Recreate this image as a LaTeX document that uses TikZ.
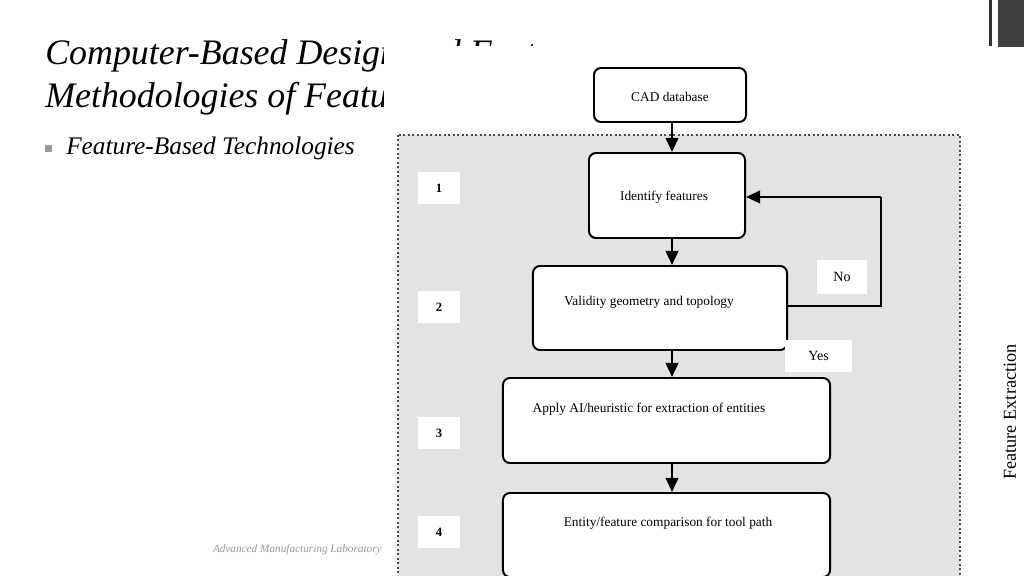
\documentclass[tikz,border=0pt]{standalone}
\usepackage{fontspec}
\setmainfont{Liberation Serif}
\usetikzlibrary{arrows.meta,calc}
\begin{document}
\begin{tikzpicture}[x=0.025cm,y=-0.025cm,
  box/.style={draw=black,line width=1.4pt,rounded corners=5pt,fill=white,inner sep=0pt},
  btxt/.style={font=\fontsize{9.5}{11}\selectfont,inner sep=0pt},
  numbox/.style={fill=white,minimum width=1.05cm,minimum height=0.8cm,font=\fontsize{9}{10}\selectfont\bfseries,inner sep=0pt},
  lbl/.style={fill=white,inner sep=0pt,font=\fontsize{10}{11}\selectfont},
  arr/.style={line width=1.3pt,-{Triangle[width=9pt,length=10pt]}},
  fb/.style={line width=1.3pt}]
\useasboundingbox (0,0) rectangle (1024,576);
\fill[white] (0,0) rectangle (1024,576);
% title (partly hidden behind the figure)
\begin{scope}
\clip (0,0) -- (1024,0) -- (1024,46) -- (383,46) -- (383,576) -- (0,576) -- cycle;
\node[anchor=base west,inner sep=0pt,font=\fontsize{25.5}{30}\itshape] (t1) at (45,65) {Computer-Based Design and Feature};
\node[anchor=base west,inner sep=0pt,font=\fontsize{25.5}{30}\itshape] (t2) at (45,108) {Methodologies of Feature};
\end{scope}
\fill[black!40] (45,145) rectangle (52,152);
\node[anchor=base west,inner sep=0pt,font=\fontsize{18}{21}\itshape] (bul) at (66,155) {Feature-Based Technologies};
\node[anchor=base east,inner sep=0pt,font=\fontsize{8}{9}\itshape,text=black!40] (foot) at (382,552) {Advanced Manufacturing Laboratory};
% top right ornament
\fill[black!80] (989,0) rectangle (992,46);
\fill[black!75] (998,0) rectangle (1024,47);
% vertical label
\node[rotate=90,inner sep=0pt,font=\fontsize{13}{15}\selectfont] (fe) at (1010,412) {Feature Extraction};
% gray dotted region
\draw[fill=black!11,draw=black!70,line width=1.2pt,dotted] (398,135) rectangle (960,580);
% boxes
\node[box,minimum width=3.8cm,minimum height=1.35cm] (cad) at (670,95) {};
\node[btxt] (cadt) at (670,97) {CAD database};
\node[box,minimum width=3.9cm,minimum height=2.125cm] (idf) at (667,195.5) {};
\node[btxt] (idft) at (664,197) {Identify features};
\node[box,minimum width=6.35cm,minimum height=2.1cm] (val) at (660,308) {};
\node[btxt] (valt) at (649,302) {Validity geometry and topology};
\node[box,minimum width=8.175cm,minimum height=2.125cm] (app) at (666.5,420.5) {};
\node[btxt] (appt) at (649,409) {Apply AI/heuristic for extraction of entities};
\node[box,minimum width=8.175cm,minimum height=2.1cm] (ent) at (666.5,535) {};
\node[btxt] (entt) at (668,523) {Entity/feature comparison for tool path};
% number labels
\node[numbox] (n1) at (439,188) {1};
\node[numbox] (n2) at (439,307) {2};
\node[numbox] (n3) at (439,433) {3};
\node[numbox] (n4) at (439,532) {4};
% yes / no labels
\node[lbl,minimum width=1.25cm,minimum height=0.85cm] (no) at (842,277) {No};
\node[lbl,minimum width=1.675cm,minimum height=0.8cm] (yes) at (818.5,356) {Yes};
% arrows
\coordinate (ax) at (672,0);
\draw[arr] (cad.south -| ax) -- (idf.north -| ax);
\draw[arr] (idf.south -| ax) -- (val.north -| ax);
\draw[arr] (val.south -| ax) -- (app.north -| ax);
\draw[arr] (app.south -| ax) -- (ent.north -| ax);
\coordinate (c1) at (881,306);
\coordinate (c2) at (881,197);
\draw[fb] (val.east |- c1) -- (c1) -- (c2);
\draw[arr] (c2) -- (idf.east |- c2);
\end{tikzpicture}
\end{document}
